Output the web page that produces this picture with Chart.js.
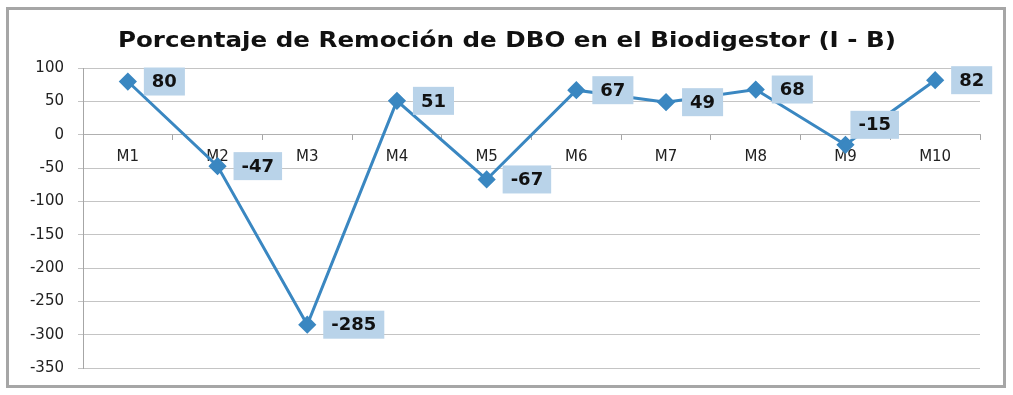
<!DOCTYPE html>
<html>
<head>
<meta charset="utf-8">
<script src="https://cdn.jsdelivr.net/npm/chart.js@4"></script>
<style>
  html, body { margin: 0; padding: 0; background: #fff; }
  #box {
    position: absolute; left: 6px; top: 7px;
    width: 994px; height: 375px;
    border: 3px solid #a6a6a6;
    background: #fff;
  }
  canvas { display: block; }
</style>
</head>
<body>
<div id="box"><canvas id="grafico" width="994" height="375"></canvas></div>
<script>
// datos del grafico
const meses = ['M1', 'M2', 'M3', 'M4', 'M5', 'M6', 'M7', 'M8', 'M9', 'M10'];
const remocion = [80, -47, -285, 51, -67, 67, 49, 68, -15, 82];
const tituloTexto = 'Porcentaje de Remoción de DBO en el Biodigestor (I - B)';

const azul = '#3a87c1';
const fuente = '"DejaVu Sans", sans-serif';

// etiquetas con fondo celeste a la derecha de cada punto
const etiquetasPlugin = {
    id: 'etiquetas',
    afterDatasetsDraw(chart) {
        const ctx = chart.ctx;
        const meta = chart.getDatasetMeta(0);
        ctx.save();
        ctx.font = 'bold 18px ' + fuente;
        ctx.textBaseline = 'middle';
        meta.data.forEach((pt, i) => {
            const txt = String(remocion[i]);
            const w = ctx.measureText(txt).width + 16;
            const h = 28;
            let x = pt.x + 16;
            let y = pt.y - h / 2;
            if (i === 8) { x = pt.x + 5; y = pt.y - 34; } // M9 queda arriba
            ctx.fillStyle = '#b9d3e9';
            ctx.fillRect(x, y, w, h);
            ctx.fillStyle = '#111';
            ctx.fillText(txt, x + 8, y + h / 2 + 1);
        });
        ctx.restore();
    },
    // titulo estirado a lo ancho, como en la imagen original
    afterDraw(chart) {
        const ctx = chart.ctx;
        const t = chart.titleBlock;
        ctx.save();
        ctx.translate(chart.width / 2 + 1, t.top + t.height / 2 + 2);
        ctx.scale(1.17, 1);
        ctx.font = 'bold 21px ' + fuente;
        ctx.fillStyle = '#111';
        ctx.textAlign = 'center';
        ctx.textBaseline = 'middle';
        ctx.fillText(tituloTexto, 0, 0);
        ctx.restore();
    }
};

new Chart(document.getElementById('grafico').getContext('2d'), {
    type: 'line',
    data: {
        labels: meses,
        datasets: [{
            data: remocion,
            borderColor: azul,
            backgroundColor: azul,
            borderWidth: 3,
            pointStyle: 'rectRot',
            pointRadius: 7,
            pointHoverRadius: 7,
            tension: 0,
            fill: false
        }]
    },
    options: {
        responsive: false,
        animation: false,
        layout: { padding: { left: 0, right: 23, top: 0, bottom: 17 } },
        plugins: {
            legend: { display: false },
            tooltip: { enabled: false },
            title: {
                display: true,
                text: tituloTexto,
                color: 'rgba(0,0,0,0)',
                font: { family: fuente, size: 21, weight: 'bold' },
                padding: { top: 14, bottom: 19 }
            }
        },
        scales: {
            x: {
                position: { y: 0 },
                offset: true,
                grid: {
                    display: true,
                    offset: true,
                    drawOnChartArea: false,
                    drawTicks: true,
                    tickLength: 5,
                    color: '#a6a6a6'
                },
                border: { display: true, color: '#b0b0b0' },
                ticks: {
                    color: '#222',
                    font: { family: fuente, size: 15 },
                    padding: 8
                },
                afterFit(scale) { scale.height = 0; }
            },
            y: {
                min: -350,
                max: 100,
                ticks: {
                    stepSize: 50,
                    color: '#222',
                    font: { family: fuente, size: 15 },
                    padding: 14
                },
                grid: {
                    color: '#c4c4c4',
                    tickLength: 5
                },
                border: { display: true, color: '#a6a6a6' },
                afterFit(scale) {
                    scale.width = 74;
                    scale.paddingTop = 0;
                    scale.paddingBottom = 0;
                }
            }
        }
    },
    plugins: [etiquetasPlugin]
});
</script>
</body>
</html>
